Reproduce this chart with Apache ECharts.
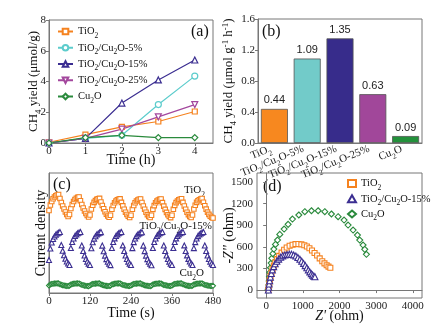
<!DOCTYPE html>
<html><head><meta charset="utf-8">
<script src="https://cdn.jsdelivr.net/npm/echarts@6/dist/echarts.min.js"></script>
<style>html,body{margin:0;padding:0;background:#fff}#c{width:443px;height:327px}</style>
</head><body><div id="c"></div><script>
// ---------- Panel (a): CH4 yield vs time ----------
const aTime = [0, 1, 2, 3, 4];
const aTiO2 = [0.05, 0.55, 1.05, 1.4, 2.05];
const aMix5 = [0, 0.3, 0.5, 2.5, 4.35];
const aMix15 = [0, 0.3, 2.6, 4.1, 5.4];
const aMix25 = [0, 0.3, 0.9, 1.7, 2.5];
const aCu2O = [0, 0.35, 0.5, 0.35, 0.35];
const aXTicks = [0, 1, 2, 3, 4];
const aYTicks = [0, 2, 4, 6, 8];

// ---------- Panel (b): CH4 yield rate ----------
const bCats = ['TiO_2', 'TiO_2/Cu_2O-5%', 'TiO_2/Cu_2O-15%', 'TiO_2/Cu_2O-25%', 'Cu_2O'];
const bVals = [0.44, 1.09, 1.35, 0.63, 0.09];
const bYTicks = [0.0, 0.4, 0.8, 1.2, 1.6];

// ---------- Panel (c): transient photocurrent ----------
const cTime = [0,4,8,12,16,20,24,28,32,36,40,44,48,52,56,
 60,64,68,72,76,80,84,88,92,96,100,104,108,112,116,
 120,124,128,132,136,140,144,148,152,156,160,164,168,172,176,
 180,184,188,192,196,200,204,208,212,216,220,224,228,232,236,
 240,244,248,252,256,260,264,268,272,276,280,284,288,292,296,
 300,304,308,312,316,320,324,328,332,336,340,344,348,352,356,
 360,364,368,372,376,380,384,388,392,396,400,404,408,412,416,
 420,424,428,432,436,440,444,448,452,456,460,464,468,472,476,480];
const cTiO2 = [
 8.25,8.8,9.15,9.42,9.6,9.72,9.8,9.85,9.45,9.05,8.7,8.4,8.1,7.85,7.65,
 7.85,8.45,8.85,9.15,9.35,9.48,9.56,9.6,9.22,8.85,8.5,8.2,7.95,7.75,7.6,
 7.8,8.4,8.78,9.06,9.24,9.36,9.42,9.46,9.1,8.75,8.42,8.12,7.88,7.7,7.57,
 7.78,8.38,8.75,9.02,9.2,9.31,9.37,9.41,9.06,8.71,8.38,8.08,7.85,7.68,7.55,
 7.78,8.37,8.75,9.03,9.2,9.3,9.37,9.4,9.05,8.7,8.37,8.07,7.84,7.66,7.55,
 7.77,8.36,8.74,9.02,9.19,9.3,9.36,9.4,9.04,8.69,8.36,8.06,7.83,7.66,7.54,
 7.78,8.38,8.76,9.04,9.2,9.31,9.38,9.42,9.06,8.7,8.37,8.07,7.84,7.66,7.55,
 7.8,8.4,8.78,9.06,9.23,9.33,9.4,9.45,9.08,8.72,8.39,8.09,7.86,7.68,7.56,
 7.5];
const cMix15 = [
 3.3,4.45,5.05,5.4,5.65,5.82,5.95,6.03,6.1,4.8,4.22,3.78,3.42,3.15,2.95,
 2.8,4.5,5.1,5.45,5.7,5.86,5.97,6.05,6.1,4.75,4.2,3.75,3.4,3.14,2.94,
 2.8,4.48,5.08,5.44,5.68,5.85,5.96,6.04,6.09,4.74,4.18,3.74,3.39,3.13,2.93,
 2.79,4.5,5.1,5.46,5.7,5.86,5.97,6.05,6.1,4.76,4.2,3.75,3.4,3.14,2.94,
 2.8,4.49,5.09,5.45,5.69,5.85,5.96,6.04,6.08,4.74,4.19,3.74,3.39,3.13,2.93,
 2.78,4.5,5.1,5.45,5.7,5.86,5.97,6.05,6.1,4.75,4.2,3.75,3.4,3.14,2.94,
 2.8,4.5,5.1,5.46,5.7,5.86,5.98,6.06,6.1,4.76,4.2,3.76,3.41,3.15,2.95,
 2.8,4.49,5.09,5.45,5.69,5.85,5.96,6.04,6.1,4.75,4.2,3.75,3.4,3.14,2.94,
 2.8];
const cCu2O = [
 0.75,0.85,0.9,0.93,0.95,0.95,0.96,0.96,0.88,0.82,0.78,0.75,0.72,0.7,0.7,
 0.74,0.84,0.9,0.93,0.94,0.95,0.96,0.95,0.88,0.82,0.78,0.74,0.72,0.7,0.69,
 0.75,0.85,0.9,0.92,0.94,0.95,0.95,0.96,0.87,0.81,0.77,0.74,0.71,0.7,0.7,
 0.74,0.85,0.89,0.93,0.95,0.95,0.96,0.96,0.88,0.82,0.78,0.75,0.72,0.7,0.7,
 0.75,0.84,0.9,0.93,0.94,0.95,0.95,0.96,0.88,0.82,0.77,0.74,0.72,0.7,0.69,
 0.74,0.85,0.9,0.92,0.94,0.95,0.96,0.95,0.87,0.81,0.78,0.75,0.72,0.7,0.7,
 0.75,0.85,0.9,0.93,0.95,0.95,0.96,0.96,0.88,0.82,0.78,0.74,0.71,0.7,0.7,
 0.74,0.84,0.89,0.93,0.94,0.95,0.95,0.96,0.88,0.82,0.78,0.75,0.72,0.7,0.7,
 0.72];
const cXTicks = [0, 120, 240, 360, 480];

// ---------- Panel (d): Nyquist plots ----------
const dTiO2 = [[60,0],[70,40],[85,90],[100,140],[120,190],[145,240],[175,290],[210,340],[250,385],[300,430],
 [355,475],[420,520],[490,560],[560,590],[640,615],[720,630],[800,638],[880,640],[960,635],[1040,622],
 [1110,605],[1180,580],[1250,550],[1320,515],[1390,480],[1460,440],[1530,400],[1590,370],[1650,345],[1700,325],[1750,310]];
const dMix15 = [[60,0],[68,40],[80,85],[95,130],[115,180],[140,230],[170,280],[205,325],[245,365],[290,400],
 [340,430],[395,455],[450,475],[510,488],[570,495],[630,498],[690,496],[750,488],[810,472],[865,452],
 [920,428],[970,400],[1020,370],[1065,340],[1110,310],[1150,280],[1190,252],[1230,228],[1265,208],[1300,192],[1330,185]];
const dCu2O = [[50,0],[64,23],[73,69],[82,125],[91,185],[100,245],[118,310],[136,375],[154,440],[182,505],
 [209,569],[254,634],[309,694],[372,773],[490,847],[599,912],[717,986],[890,1042],[1054,1088],[1235,1101],
 [1417,1101],[1599,1088],[1780,1056],[1962,1018],[2125,972],[2234,903],[2371,833],[2489,764],[2552,694],
 [2643,625],[2689,565],[2734,496]];
const dXTicks = [0, 1000, 2000, 3000, 4000];
const dYTicks = [0, 300, 600, 900, 1200, 1500];

// ---------- helpers ----------
const SERIF = 'Liberation Serif';
const SANS = 'Liberation Sans';
function rich(s) { // '_x' -> subscript, '^x' -> superscript
  let out = '', buf = '';
  for (let i = 0; i < s.length; i++) {
    const ch = s[i];
    if ((ch === '_' || ch === '^') && i + 1 < s.length) {
      if (buf) out += '{t|' + buf + '}';
      buf = '';
      out += '{' + (ch === '_' ? 's' : 'u') + '|' + s[i + 1] + '}';
      i++;
    } else buf += ch;
  }
  if (buf) out += '{t|' + buf + '}';
  return out;
}
function richStyle(fs, color) {
  const ss = Math.max(7.5, fs * 0.68);
  return {
    t: { fontFamily: SERIF, fontSize: fs, color: color || '#111', lineHeight: fs + 2 },
    s: { fontFamily: SERIF, fontSize: ss, color: color || '#111', verticalAlign: 'bottom', lineHeight: fs + 2, padding: [0, 0, -2, 0] },
    u: { fontFamily: SERIF, fontSize: ss, color: color || '#111', verticalAlign: 'top', lineHeight: fs + 2 },
    i: { fontFamily: SERIF, fontSize: fs, color: color || '#111', fontStyle: 'italic', lineHeight: fs + 2 }
  };
}
const zip = (xs, ys) => xs.map((x, i) => [x, ys[i]]);

const C = { orange: '#f5821f', cyan: '#5ccccc', navy: '#3b2e91', purple: '#a3479d', green: '#2a8a3c' };
const BAR = ['#f7881f', '#72cbc9', '#372c8b', '#a1479a', '#23913b'];
const AX = '#777';
const plain = v => String(v);

function valAxis(o) {
  return Object.assign({
    type: 'value', splitLine: { show: false }, nameMoveOverlap: false,
    axisLine: { show: true, lineStyle: { color: AX, width: 1 } },
    axisTick: { show: true, inside: false, length: 3, lineStyle: { color: AX } },
    axisLabel: { fontFamily: SERIF, fontSize: 11, color: '#222', margin: 3, formatter: plain },
    nameLocation: 'middle', nameTextStyle: { fontFamily: SERIF, fontSize: 14, color: '#111' }
  }, o);
}

const grids = [
  { left: 49, top: 20, width: 164, height: 123 },
  { left: 258, top: 19, width: 164, height: 124 },
  { left: 49, top: 173, width: 164, height: 120 },
  { left: 257, top: 173, width: 165, height: 125 }
].map(g => Object.assign(g, { show: true, borderColor: AX, borderWidth: 1, backgroundColor: 'transparent' }));

function lineSeries(name, data, color, symbol, rot) {
  return {
    type: 'line', name: name, xAxisIndex: 0, yAxisIndex: 0, data: zip(aTime, data),
    symbol: symbol, symbolSize: symbol === 'rect' ? 5 : 6, symbolRotate: rot || 0, showAllSymbol: true,
    lineStyle: { color: color, width: 1.2 },
    itemStyle: { color: '#fff', borderColor: color, borderWidth: 1.2 },
    z: 3
  };
}
function scat(xi, yi, name, data, color, symbol, size) {
  return {
    type: 'scatter', name: name, xAxisIndex: xi, yAxisIndex: yi, data: data,
    symbol: symbol, symbolSize: size,
    itemStyle: { color: '#fff', borderColor: color, borderWidth: 1.1, opacity: 1 },
    silent: true
  };
}

const option = {
  backgroundColor: '#fff',
  animation: false,
  grid: grids,
  xAxis: [
    valAxis({ gridIndex: 0, min: 0, max: 4.5, name: 'Time (h)', nameGap: 10,
      axisLabel: { fontFamily: SERIF, fontSize: 11, color: '#222', margin: 3, customValues: aXTicks, formatter: plain },
      axisTick: { show: true, length: 3, lineStyle: { color: AX }, customValues: aXTicks } }),
    { type: 'category', gridIndex: 1, data: bCats, nameMoveOverlap: false,
      axisLine: { show: true, lineStyle: { color: AX } }, axisTick: { show: false },
      axisLabel: { interval: 0, rotate: 22, margin: 4, formatter: v => rich(v) + '{p| }', rich: Object.assign(richStyle(11, '#222'), { p: { fontSize: 11, width: 4 } }) } },
    valAxis({ gridIndex: 2, min: 0, max: 480, interval: 120, name: 'Time (s)', nameGap: 13 }),
    valAxis({ gridIndex: 3, min: -250, max: 4250, name: '{i|Z\'}{t| (ohm)}', nameGap: 10,
      nameTextStyle: { rich: richStyle(14) },
      axisLabel: { fontFamily: SERIF, fontSize: 11, color: '#222', margin: 3, customValues: dXTicks, formatter: plain },
      axisTick: { show: true, length: 3, lineStyle: { color: AX }, customValues: dXTicks } })
  ],
  yAxis: [
    valAxis({ gridIndex: 0, min: 0, max: 8, interval: 2, name: rich('CH_4 yield (μmol/g)'), nameGap: 8,
      nameTextStyle: { rich: richStyle(13) } }),
    valAxis({ gridIndex: 1, min: 0, max: 1.6, interval: 0.4, name: rich('CH_4 yield (μmol g^-^1 h^-^1)'), nameGap: 22,
      nameTextStyle: { rich: richStyle(13) },
      axisLabel: { fontFamily: SERIF, fontSize: 11, color: '#222', margin: 3, formatter: v => v.toFixed(1) } }),
    valAxis({ gridIndex: 2, min: 0, max: 12, name: 'Current density', nameGap: 1,
      axisLabel: { show: false }, axisTick: { show: false } }),
    valAxis({ gridIndex: 3, min: -110, max: 1625, name: '{t|-}{i|Z\'\'}{t| (ohm)}', nameGap: 20,
      nameTextStyle: { rich: richStyle(14) },
      axisLabel: { fontFamily: SERIF, fontSize: 11, color: '#222', margin: 4, customValues: dYTicks, formatter: plain },
      axisTick: { show: true, length: 3, lineStyle: { color: AX }, customValues: dYTicks } })
  ],
  legend: [
    { orient: 'vertical', left: 57, top: 26, padding: 0, itemWidth: 15, itemHeight: 7, itemGap: 2.5,
      data: ['TiO_2', 'TiO_2/Cu_2O-5%', 'TiO_2/Cu_2O-15%', 'TiO_2/Cu_2O-25%', 'Cu_2O'],
      formatter: n => rich(n), textStyle: { rich: richStyle(10.5) }, selectedMode: false },
    { orient: 'vertical', left: 347, top: 178, padding: 0, itemWidth: 8, itemHeight: 7, itemGap: 1.5,
      data: ['TiO_2 ', 'TiO_2/Cu_2O-15% ', 'Cu_2O '],
      formatter: n => rich(n.trim()), textStyle: { rich: richStyle(10.5) }, selectedMode: false }
  ],
  series: [
    lineSeries('TiO_2', aTiO2, C.orange, 'rect'),
    lineSeries('TiO_2/Cu_2O-5%', aMix5, C.cyan, 'circle'),
    lineSeries('TiO_2/Cu_2O-15%', aMix15, C.navy, 'triangle'),
    lineSeries('TiO_2/Cu_2O-25%', aMix25, C.purple, 'triangle', 180),
    lineSeries('Cu_2O', aCu2O, C.green, 'diamond'),
    { type: 'bar', xAxisIndex: 1, yAxisIndex: 1, barWidth: 27,
      data: bVals.map((v, i) => ({ value: v, itemStyle: { color: BAR[i] } })),
      itemStyle: { borderColor: '#555', borderWidth: 0.8 },
      label: { show: true, position: 'top', distance: 3, fontFamily: SANS, fontSize: 11, color: '#222', formatter: p => p.value.toFixed(2) } },
    scat(2, 2, 'c-TiO2', zip(cTime, cTiO2), C.orange, 'rect', 4.5),
    scat(2, 2, 'c-mix', zip(cTime, cMix15), C.navy, 'triangle', 5),
    scat(2, 2, 'c-cu', zip(cTime, cCu2O), C.green, 'diamond', 5),
    scat(3, 3, 'Cu_2O ', dCu2O, C.green, 'diamond', 6),
    scat(3, 3, 'TiO_2 ', dTiO2, C.orange, 'rect', 5),
    scat(3, 3, 'TiO_2/Cu_2O-15% ', dMix15, C.navy, 'triangle', 6)
  ],
  graphic: [
    { type: 'text', left: 191, top: 24, style: { text: '(a)', font: '16px "Liberation Serif"', fill: '#111' } },
    { type: 'text', left: 262, top: 24, style: { text: '(b)', font: '16px "Liberation Serif"', fill: '#111' } },
    { type: 'text', left: 53, top: 177, style: { text: '(c)', font: '16px "Liberation Serif"', fill: '#111' } },
    { type: 'text', left: 263, top: 179, style: { text: '(d)', font: '16px "Liberation Serif"', fill: '#111' } },
    { type: 'text', right: 238, top: 185, style: { text: rich('TiO_2'), rich: richStyle(11), fill: '#111' } },
    { type: 'text', right: 231, top: 221, style: { text: rich('TiO_2/Cu_2O-15%'), rich: richStyle(11), fill: '#111' } },
    { type: 'text', right: 239, top: 268, style: { text: rich('Cu_2O'), rich: richStyle(11), fill: '#111' } }
  ]
};
const chart = echarts.init(document.getElementById('c'), null, { renderer: 'canvas' });
chart.setOption(option);
</script></body></html>
